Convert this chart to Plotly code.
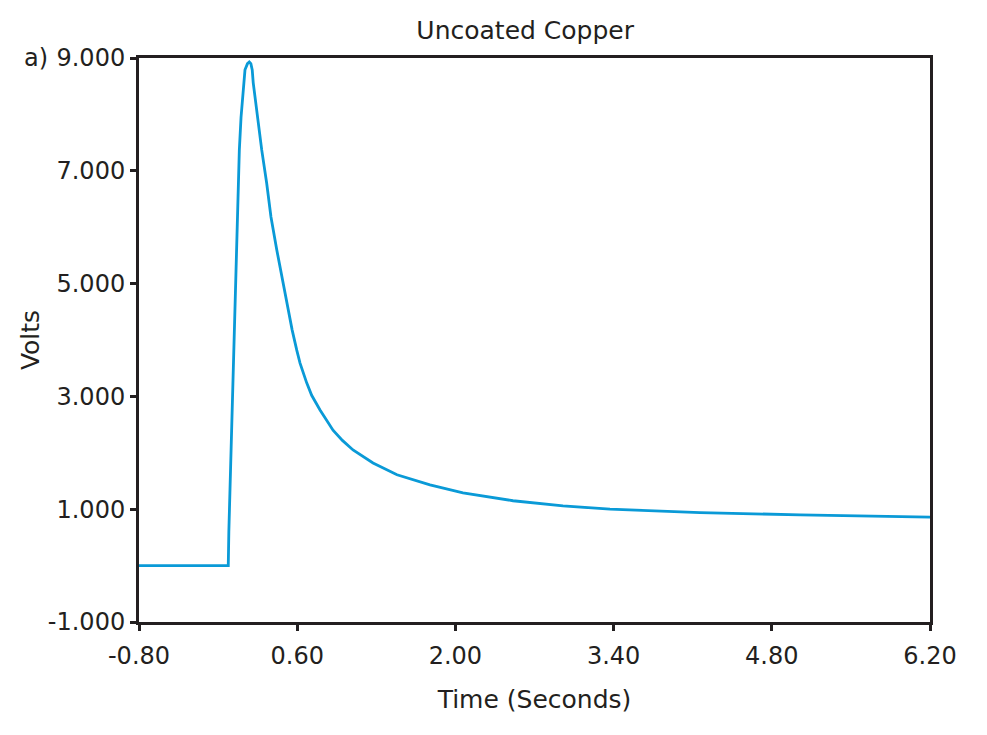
import plotly.graph_objects as go

time_s = [-0.80, -0.60, -0.40, -0.20, -0.01, -0.005, 0.011, 0.029, 0.045, 0.055,
          0.070, 0.088, 0.103, 0.129, 0.138, 0.160, 0.176, 0.190, 0.202, 0.211,
          0.247, 0.286, 0.330, 0.368, 0.419, 0.477, 0.507, 0.530, 0.555, 0.596,
          0.625, 0.684, 0.728, 0.802, 0.875, 0.917, 1.000, 1.094, 1.271, 1.483,
          1.775, 2.067, 2.510, 2.952, 3.368, 4.165, 5.050, 6.200]
volts = [0.00, 0.00, 0.00, 0.00, 0.00, 0.60, 1.82, 2.99, 4.18, 5.01,
         6.18, 7.37, 7.95, 8.56, 8.79, 8.90, 8.93, 8.90, 8.79, 8.56,
         7.95, 7.37, 6.78, 6.18, 5.60, 5.01, 4.71, 4.42, 4.18, 3.82,
         3.59, 3.24, 3.02, 2.76, 2.53, 2.40, 2.22, 2.05, 1.82, 1.61,
         1.43, 1.29, 1.15, 1.06, 1.00, 0.94, 0.90, 0.86]

x_ticks = [-0.80, 0.60, 2.00, 3.40, 4.80, 6.20]
x_labels = ["-0.80", "0.60", "2.00", "3.40", "4.80", "6.20"]
y_ticks = [-1.0, 1.0, 3.0, 5.0, 7.0, 9.0]
y_labels = ["-1.000", "1.000", "3.000", "5.000", "7.000", "9.000"]

ink = "#231f20"
font = "DejaVu Sans"

fig = go.Figure()
fig.add_trace(go.Scatter(x=time_s, y=volts, mode="lines",
                         line=dict(color="#0a9ad7", width=2.8),
                         showlegend=False))

axis_common = dict(showline=True, linewidth=3, linecolor=ink, mirror=True,
                   ticks="outside", ticklen=6, tickwidth=3, tickcolor=ink,
                   showgrid=False, zeroline=False,
                   tickfont=dict(family=font, size=24, color=ink))

fig.update_xaxes(range=[-0.8, 6.2], tickvals=x_ticks, ticktext=x_labels,
                 ticklabelstandoff=4,
                 title=dict(text="Time (Seconds)", font=dict(family=font, size=25, color=ink), standoff=22),
                 **axis_common)
fig.update_yaxes(range=[-1, 9], tickvals=y_ticks, ticktext=y_labels,
                 title=dict(text="Volts", font=dict(family=font, size=25, color=ink), standoff=2),
                 **axis_common)

fig.add_annotation(text="a)", xref="paper", yref="paper", x=-0.1125, y=1.0,
                   xanchor="right", yanchor="middle", showarrow=False,
                   font=dict(family=font, size=24, color=ink))

fig.update_layout(
    width=987, height=735,
    margin=dict(l=131, r=65, t=50, b=121),
    paper_bgcolor="white", plot_bgcolor="white",
    title=dict(text="Uncoated Copper", x=0.524, xanchor="center", y=0.970, yanchor="middle",
               font=dict(family=font, size=25, color=ink)),
)

fig.write_html("out.html")
